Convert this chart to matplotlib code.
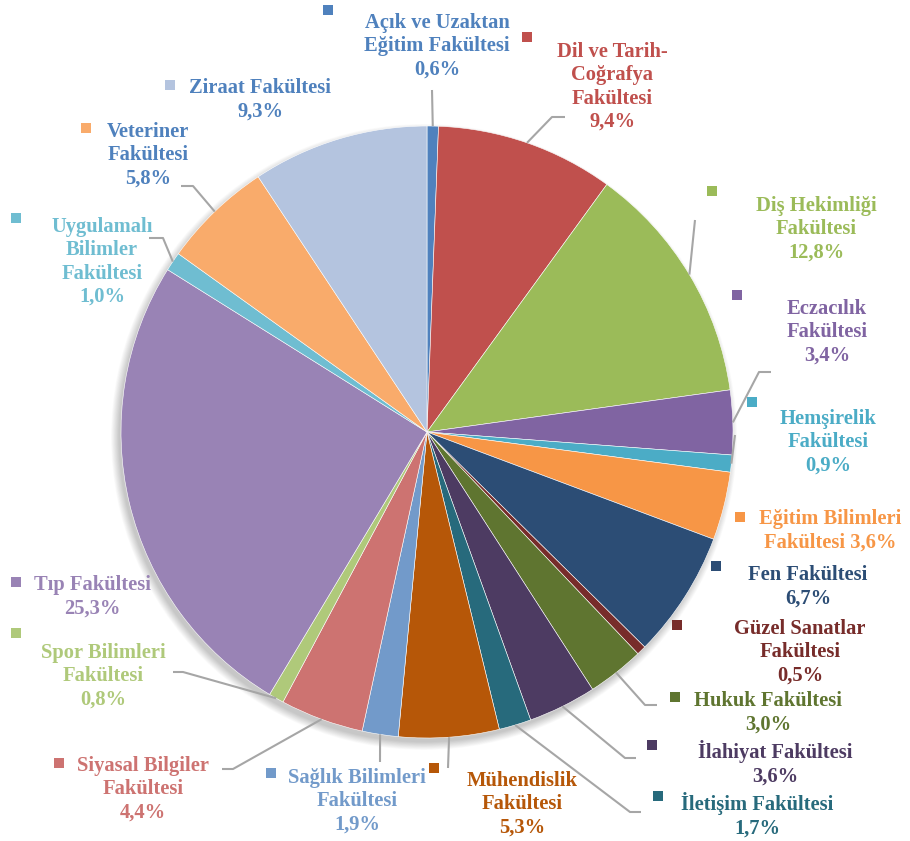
import matplotlib
matplotlib.use("Agg")
import matplotlib.pyplot as plt
import numpy as np

categories = [
    "Açık ve Uzaktan\nEğitim Fakültesi", "Dil ve Tarih-\nCoğrafya\nFakültesi",
    "Diş Hekimliği\nFakültesi", "Eczacılık\nFakültesi", "Hemşirelik\nFakültesi",
    "Eğitim Bilimleri\nFakültesi", "Fen Fakültesi", "Güzel Sanatlar\nFakültesi",
    "Hukuk Fakültesi", "İlahiyat Fakültesi", "İletişim Fakültesi",
    "Mühendislik\nFakültesi", "Sağlık Bilimleri\nFakültesi", "Siyasal Bilgiler\nFakültesi",
    "Spor Bilimleri\nFakültesi", "Tıp Fakültesi", "Uygulamalı\nBilimler\nFakültesi",
    "Veteriner\nFakültesi", "Ziraat Fakültesi",
]
values = [0.6, 9.4, 12.8, 3.4, 0.9, 3.6, 6.7, 0.5, 3.0, 3.6, 1.7, 5.3, 1.9, 4.4, 0.8, 25.3, 1.0, 5.8, 9.3]
colors = ["#4F81BD", "#C0504D", "#9BBB59", "#8064A2", "#4BACC6", "#F79646", "#2C4D75",
          "#772C2A", "#5F7530", "#4D3B62", "#276A7C", "#B65708", "#729ACA", "#CD7371",
          "#AFC97A", "#9983B5", "#6FBDD1", "#F9AB6B", "#B4C4DF"]
text_colors = list(colors)
text_colors[17] = "#4F81BD"
text_colors[18] = "#4F81BD"

W, H = 910, 841
fig = plt.figure(figsize=(W / 100, H / 100), dpi=100)
ax = fig.add_axes([0, 0, 1, 1])

cx, cy, R = 427, H - 432, 306

# soft shadow
for i in range(14):
    sh = plt.Circle((cx - 3, cy - 5), R + 7 - i * 0.6, color="#000000", alpha=0.014, lw=0, zorder=0)
    ax.add_patch(sh)

wedges, _ = ax.pie(values, colors=colors, startangle=90, counterclock=False,
                   center=(cx, cy), radius=R, frame=True,
                   wedgeprops=dict(linewidth=0.4, edgecolor="white"))
ax.set_xlim(0, W)
ax.set_ylim(0, H)
ax.set_aspect("equal")
ax.axis("off")

# label layout (pixel coords, y down): text center x, text center y, marker x, marker y
layout = [
    (437, 46, 328, 10),
    (612, 87, 527, 37),
    (816, 229, 712, 191),
    (827, 332, 737, 295),
    (828, 442, 752, 402),
    (830, 531, 740, 517),
    (808, 587, 716, 566),
    (800, 652, 677, 625),
    (768, 713, 675, 697),
    (775, 763, 652, 745),
    (757, 815, 658, 796),
    (522, 804, 434, 768),
    (357, 801, 271, 773),
    (143, 789, 59, 763),
    (103, 676, 16, 633),
    (92, 597, 16, 582),
    (102, 262, 16, 218),
    (148, 155, 86, 128),
    (260, 100, 170, 85),
]

for i, (cat, v) in enumerate(zip(categories, values)):
    tx, ty, mx, my = layout[i]
    pct = f"{v:.1f}".replace(".", ",") + "%"
    if i == 5:
        label = "Eğitim Bilimleri\nFakültesi " + pct
    else:
        label = cat + "\n" + pct
    ax.text(tx, H - ty, label, ha="center", va="center", fontsize=14.8,
            fontweight="bold", family="Liberation Serif", color=text_colors[i],
            linespacing=1.22, zorder=5)
    ax.add_patch(plt.Rectangle((mx - 5, H - my - 5), 10, 10, color=colors[i], lw=0, zorder=5))

# leader lines: (slice index -> pixel points after the slice edge point)
leaders = {
    0: [(432, 90)],
    1: [(552, 117), (565, 117)],
    2: [(695, 220)],
    3: [(759, 372), (771, 372)],
    4: [(735, 435)],
    8: [(645, 705), (657, 705)],
    9: [(625, 758), (636, 758)],
    10: [(630, 812), (641, 812)],
    11: [(448, 768)],
    12: [(380, 762)],
    13: [(233, 769), (222, 769)],
    14: [(183, 672), (173, 672)],
    16: [(163, 238), (149, 238)],
    17: [(193, 186), (181, 186)],
}
for i, pts in leaders.items():
    w = wedges[i]
    mid = np.deg2rad((w.theta1 + w.theta2) / 2)
    ex, ey = cx + R * np.cos(mid), cy + R * np.sin(mid)
    xs = [ex] + [p[0] for p in pts]
    ys = [ey] + [H - p[1] for p in pts]
    ax.plot(xs, ys, color="#A6A6A6", lw=1.5, zorder=4, solid_capstyle="butt")

fig.savefig("out.png", dpi=100, facecolor="white")
